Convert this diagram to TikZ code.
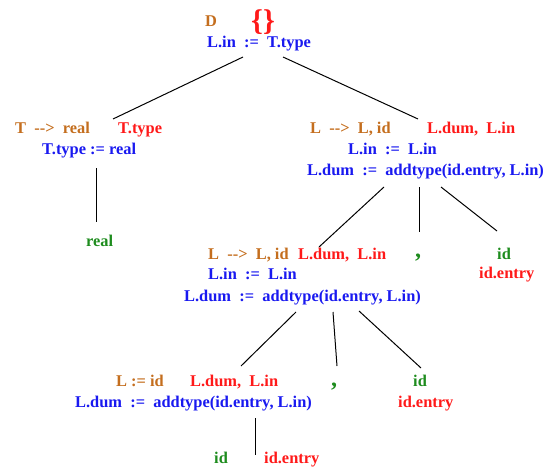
\documentclass[tikz,border=0pt]{standalone}
\usepackage{fontspec}
\setmainfont{Liberation Serif}
\definecolor{cOr}{RGB}{196,110,30}
\definecolor{cRd}{RGB}{255,25,25}
\definecolor{cBl}{RGB}{25,25,240}
\definecolor{cGr}{RGB}{30,140,30}
\begin{document}
\begin{tikzpicture}[x=1pt,y=-1pt,
  txt/.style={inner sep=0pt, anchor=base west, font=\fontsize{16.4}{19}\selectfont\bfseries},
  ot/.style={txt,text=cOr}, rt/.style={txt,text=cRd}, bt/.style={txt,text=cBl}, gt/.style={txt,text=cGr},
  commat/.style={gt,font=\fontsize{24}{26}\selectfont\bfseries},
  edge/.style={draw=black,line width=1pt}]
\useasboundingbox (0,0) rectangle (556,468);
% root
\node[ot] (D) at (205,27) {D};
\node[rt,font=\fontsize{30}{32}\selectfont\bfseries] (br) at (251,31) {\{\}};
\node[bt] (r1) at (207,48) {L.in\ \ :=\ \ T.type};
% left T subtree
\node[ot] (t1) at (15,133) {T\ \ -{}-{}>\ \ real};
\node[rt] (t1r) at (118,133) {T.type};
\node[bt] (t2) at (42,154) {T.type := real};
\node[gt] (real) at (86,246) {real};
% right L subtree
\node[ot] (a1) at (310,133) {L\ \ -{}-{}>\ \ L, id};
\node[rt] (a1r) at (427,133) {L.dum,\ \ L.in};
\node[bt] (a2) at (348,154) {L.in\ \ :=\ \ L.in};
\node[bt] (a3) at (307,175) {L.dum\ \ :=\ \ addtype(id.entry, L.in)};
\node[commat] (c1) at (415,257) {,};
\node[gt] (aid) at (497,259) {id};
\node[rt] (aide) at (479,278) {id.entry};
% middle L
\node[ot] (b1) at (208,259) {L\ \ -{}-{}>\ \ L, id};
\node[rt] (b1r) at (298,259) {L.dum,\ \ L.in};
\node[bt] (b2) at (208,279) {L.in\ \ :=\ \ L.in};
\node[bt] (b3) at (184,301) {L.dum\ \ :=\ \ addtype(id.entry, L.in)};
\node[commat] (c2) at (331,386) {,};
\node[gt] (bid) at (413,386) {id};
\node[rt] (bide) at (398,407) {id.entry};
% bottom L
\node[ot] (d1) at (116,386) {L := id};
\node[rt] (d1r) at (190,386) {L.dum,\ \ L.in};
\node[bt] (d2) at (75,407) {L.dum\ \ :=\ \ addtype(id.entry, L.in)};
\node[gt] (did) at (214,463) {id};
\node[rt] (dide) at (264,463) {id.entry};
% connector endpoints
\coordinate (p1) at (243,57); \coordinate (p2) at (113,119);
\coordinate (p3) at (283,57); \coordinate (p4) at (418,119);
\coordinate (p5) at (96,168); \coordinate (p6) at (96,222);
\coordinate (q1) at (384,187); \coordinate (q2) at (319,247);
\coordinate (q3) at (419,187); \coordinate (q4) at (419,232);
\coordinate (q5) at (441,187); \coordinate (q6) at (497,231);
\coordinate (s1) at (296,312); \coordinate (s2) at (241,366);
\coordinate (s3) at (333,312); \coordinate (s4) at (337,366);
\coordinate (s5) at (359,311); \coordinate (s6) at (421,368);
\coordinate (u1) at (255,418); \coordinate (u2) at (255,455);
\draw[edge] (p1) -- (p2);
\draw[edge] (p3) -- (p4);
\draw[edge] (p5) -- (p6);
\draw[edge] (q1) -- (q2);
\draw[edge] (q3) -- (q4);
\draw[edge] (q5) -- (q6);
\draw[edge] (s1) -- (s2);
\draw[edge] (s3) -- (s4);
\draw[edge] (s5) -- (s6);
\draw[edge] (u1) -- (u2);
\end{tikzpicture}
\end{document}
